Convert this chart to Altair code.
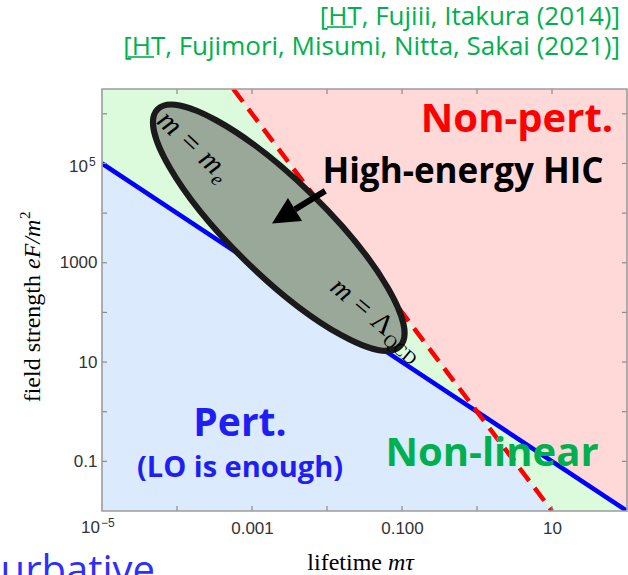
import math
import altair as alt
import pandas as pd

# ---- axis extents -------------------------------------------------------
X_DOMAIN = [1e-5, 1e2]
Y_DOMAIN = [1e-2, 3.1623e6]

# ---- region boundaries (lifetime m*tau, field strength eF/m^2) ----------
pert_region_x = [1e-5, 1.0, 10.0, 100.0]
pert_region_lo = [1e-2, 1e-2, 1e-2, 1e-2]
pert_region_hi = [1e5, 1.0, 1e-2, 1e-2]

nonlin_region_x = [1e-5, 5.623e-4, 1.0, 10.0, 100.0]
nonlin_region_lo = [1e5, 1778.0, 1.0, 1e-2, 1e-2]
nonlin_region_hi = [3.1623e6, 3.1623e6, 1.0, 0.1, 1e-2]

nonpert_region_x = [1e-5, 5.623e-4, 1.0, 100.0]
nonpert_region_lo = [3.1623e6, 3.1623e6, 1.0, 1e-2]
nonpert_region_hi = [3.1623e6, 3.1623e6, 3.1623e6, 3.1623e6]

# ---- boundary lines -----------------------------------------------------
pert_line_x = [1e-5, 100.0]
pert_line_y = [1e5, 1e-2]
nonpert_line_x = [5.623e-4, 10.0]
nonpert_line_y = [3.1623e6, 1e-2]

# ---- heavy-ion collision ellipse and arrow -----------------------------
hic_center_x = [2.275e-3]
hic_center_y = [5080.0]
arrow_tail_x, arrow_tail_y = [9.48e-3], [28060.0]
arrow_back_x, arrow_back_y = [3.74e-3], [11890.0]
arrow_head_x, arrow_head_y = [2.63e-3], [8570.0]

# ---- tick positions and labels -----------------------------------------
x_ticks = [1e-4, 1e-3, 1e-2, 1e-1, 1.0, 10.0]
y_ticks = [1e-1, 1.0, 10.0, 100.0, 1e3, 1e4, 1e5, 1e6]
x_label_values = [1e-3, 1e-1, 10.0]
x_label_text = ["0.001", "0.100", "10"]
y_label_values = [0.1, 10.0, 1000.0]
y_label_text = ["0.1", "10", "1000"]

W, H = 525, 422
PAD = {"left": 102, "top": 89, "right": 1, "bottom": 64}

SANS = "Open Sans"
SERIF = "Liberation Serif"
NUM = "Liberation Sans"
GREEN = "#00b050"
BLUE_TXT = "#1e1ef5"
LABEL = "#333333"


def label_expr(values, texts):
    expr = "''"
    for v, t in reversed(list(zip(values, texts))):
        expr = f"abs(log(datum.value)/log(10) - ({math.log10(v):.4f})) < 0.01 ? '{t}' : {expr}"
    return expr


x_scale = alt.Scale(type="log", domain=X_DOMAIN, nice=False)
y_scale = alt.Scale(type="log", domain=Y_DOMAIN, nice=False)

x_axis = alt.Axis(values=x_label_values, labelExpr=label_expr(x_label_values, x_label_text),
                  ticks=False, domain=False, grid=False, title=None,
                  labelFont=NUM, labelFontSize=17, labelColor=LABEL,
                  labelPadding=9, labelFlush=False, labelOverlap=False)
y_axis = alt.Axis(values=y_label_values, labelExpr=label_expr(y_label_values, y_label_text),
                  ticks=False, domain=False, grid=False, title=None,
                  labelFont=NUM, labelFontSize=17, labelColor=LABEL,
                  labelPadding=5, labelFlush=False, labelOverlap=False)


def X(field):
    return alt.X(f"{field}:Q", scale=x_scale, axis=x_axis)


def Y(field):
    return alt.Y(f"{field}:Q", scale=y_scale, axis=y_axis)


def region(xs, lo, hi, color):
    df = pd.DataFrame({"x": xs, "lo": lo, "hi": hi})
    return alt.Chart(df).mark_area(color=color, opacity=1, orient="vertical").encode(
        x=X("x"), y=Y("lo"), y2="hi:Q")


def line(xs, ys, color, dash=None):
    df = pd.DataFrame({"x": xs, "y": ys})
    kw = {"strokeDash": dash} if dash else {}
    return alt.Chart(df).mark_line(color=color, strokeWidth=4.5, clip=True,
                                   strokeCap="butt", **kw).encode(x=X("x"), y=Y("y"))


ONE = pd.DataFrame({"k": [0]})


def text(t, x, y, size, color="black", font=SANS, weight="normal", style="normal",
         align="center", baseline="alphabetic", angle=0, dx=0, dy=0):
    return alt.Chart(ONE).mark_text(
        text=t, font=font, fontSize=size, color=color, fontWeight=weight, fontStyle=style,
        align=align, baseline=baseline, angle=angle, dx=dx, dy=dy
    ).encode(x=alt.value(x), y=alt.value(y))


def underline(x1, x2, y, color):
    return alt.Chart(ONE).mark_rule(color=color, strokeWidth=1.6).encode(
        x=alt.value(x1), x2=alt.value(x2), y=alt.value(y))


layers = [
    region(pert_region_x, pert_region_lo, pert_region_hi, "#dbeafc"),
    region(nonlin_region_x, nonlin_region_lo, nonlin_region_hi, "#dcfadc"),
    region(nonpert_region_x, nonpert_region_lo, nonpert_region_hi, "#ffd8d8"),
    line(pert_line_x, pert_line_y, "#0000ff"),
    line(nonpert_line_x, nonpert_line_y, "#ff0000", dash=[16, 9]),
]

# ellipse of heavy-ion collisions
ELLIPSE = "M-1,0 A1,0.277 0 1 0 1,0 A1,0.277 0 1 0 -1,0 Z"
layers.append(
    alt.Chart(pd.DataFrame({"x": hic_center_x, "y": hic_center_y})).mark_point(
        shape=ELLIPSE, size=339 ** 2, angle=44.3, filled=True, fill="#9aa89a",
        stroke="#1a1a1a", strokeWidth=6, opacity=1, fillOpacity=1, strokeOpacity=1
    ).encode(x=X("x"), y=Y("y"))
)

# labels on the ellipse
layers += [
    text("m = m", 111, 87, 30, font=SERIF, style="italic", align="right", angle=43),
    text("e", 111, 87, 20, font=SERIF, style="italic", align="left", angle=43, dx=1, dy=6),
    text("m =", 282.7, 247.5, 28, font=SERIF, style="italic", align="right", angle=40, dx=-27),
    text("Λ", 282.7, 247.5, 28, font=SERIF, align="right", angle=40),
    text("QCD", 282.7, 247.5, 18, font=SERIF, align="left", angle=40, dx=1, dy=6),
]

# arrow pointing at the ellipse
layers.append(
    alt.Chart(pd.DataFrame({"x": arrow_tail_x, "y": arrow_tail_y,
                            "x2": arrow_back_x, "y2": arrow_back_y})).mark_rule(
        color="black", strokeWidth=6).encode(x=X("x"), y=Y("y"), x2="x2:Q", y2="y2:Q")
)
layers.append(
    alt.Chart(pd.DataFrame({"x": arrow_head_x, "y": arrow_head_y})).mark_point(
        shape="M0,-1 L1,1 L-1,1 Z", size=729, angle=238.5, filled=True,
        color="black", opacity=1).encode(x=X("x"), y=Y("y"))
)

# region captions
layers += [
    text("Non-pert.", 415, 43, 40, color="#ff0000", weight="bold"),
    text("High-energy HIC", 361, 94, 35, color="black", weight="bold"),
    text("Pert.", 138, 347, 39, color=BLUE_TXT, weight="bold"),
    text("(LO is enough)", 138, 388, 29, color=BLUE_TXT, weight="bold"),
    text("Non-linear", 390, 377, 40, color=GREEN, weight="bold"),
    text("Perturbative", 53, 495, 40, color="#2e2eff", align="right"),
]

# references above the frame (author initials underlined)
layers += [
    text("[HT, Fujiii, Itakura (2014)]", 518, -64, 26, color=GREEN, align="right"),
    text("[HT, Fujimori, Misumi, Nitta, Sakai (2021)]", 518, -34, 26, color=GREEN, align="right"),
    underline(225, 251, -62, GREEN),
    underline(26, 52, -32, GREEN),
]

# powers of ten written with a raised exponent
layers += [
    text("10", -2, 444, 17, font=NUM, color=LABEL, align="right"),
    text("−5", -1, 438, 12, font=NUM, color=LABEL, align="left"),
    text("10", -14, 83, 17, font=NUM, color=LABEL, align="right"),
    text("5", -13, 77, 12, font=NUM, color=LABEL, align="left"),
]

# axis titles
layers += [
    text("lifetime", 280, 481, 24, font=SERIF, align="right"),
    text("mτ", 286, 481, 24, font=SERIF, style="italic", align="left"),
    text("field strength", -62, 186, 24, font=SERIF, align="right", angle=270),
    text("eF/m", -62, 186, 24, font=SERIF, style="italic", align="left", angle=270, dx=6),
    text("2", -62, 186, 15, font=SERIF, align="left", angle=270, dx=56, dy=-10),
]

# inward ticks on all four sides
TICK = "#8a8a8a"
xt = pd.DataFrame({"x": x_ticks})
yt = pd.DataFrame({"y": y_ticks})
layers += [
    alt.Chart(xt).mark_rule(color=TICK, strokeWidth=1.2).encode(x=X("x"), y=alt.value(H), y2=alt.value(H - 5)),
    alt.Chart(xt).mark_rule(color=TICK, strokeWidth=1.2).encode(x=X("x"), y=alt.value(0), y2=alt.value(5)),
    alt.Chart(yt).mark_rule(color=TICK, strokeWidth=1.2).encode(y=Y("y"), x=alt.value(0), x2=alt.value(5)),
    alt.Chart(yt).mark_rule(color=TICK, strokeWidth=1.2).encode(y=Y("y"), x=alt.value(W), x2=alt.value(W - 5)),
]

# frame
layers.append(
    alt.Chart(ONE).mark_rect(fillOpacity=0, stroke="#9c9c9c", strokeWidth=1.6).encode(
        x=alt.value(0), x2=alt.value(W), y=alt.value(0), y2=alt.value(H))
)

chart = alt.layer(*layers).properties(
    width=W, height=H, padding=PAD,
    autosize=alt.AutoSizeParams(type="none"),
    background="white",
).configure_view(stroke=None)

chart.save("out.html", embed_options={"renderer": "svg", "actions": False})
